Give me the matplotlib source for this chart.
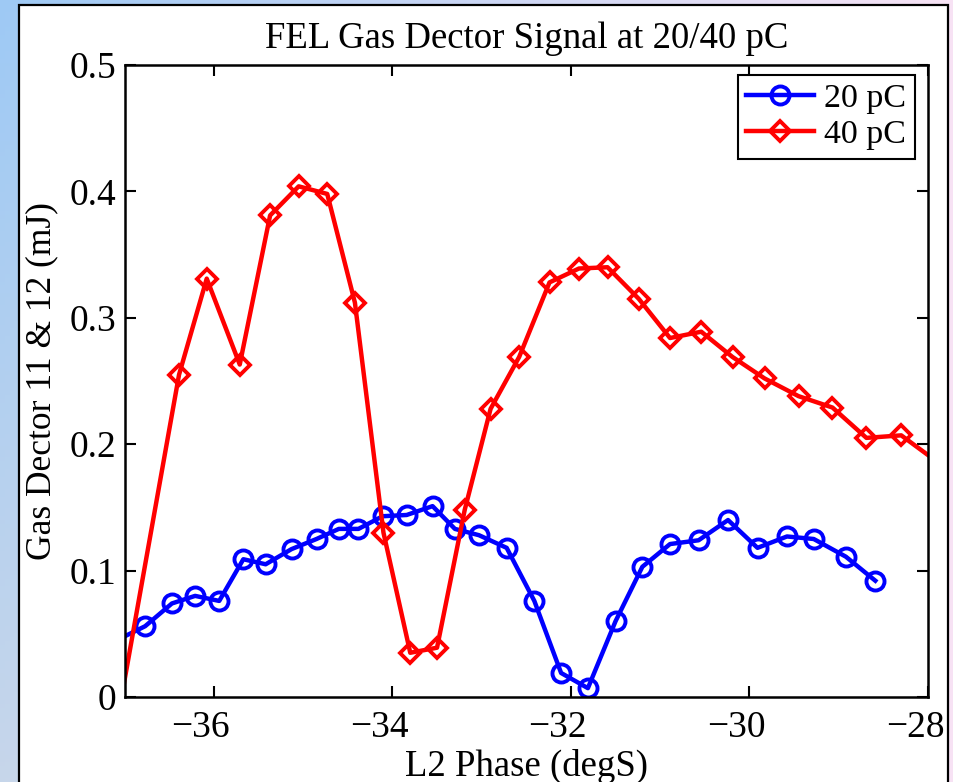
import numpy as np
import matplotlib.pyplot as plt
import matplotlib.transforms as mtransforms
from matplotlib.patches import Rectangle

plt.rcParams['font.family'] = ['Liberation Serif', 'DejaVu Serif']

# L2 phase scan, gas detector signal
phase_20pc = [-37.2, -36.77, -36.47, -36.21, -35.94, -35.67, -35.42, -35.13, -34.85,
              -34.60, -34.38, -34.11, -33.84, -33.55, -33.30, -33.03, -32.72, -32.41,
              -32.11, -31.81, -31.50, -31.20, -30.89, -30.57, -30.24, -29.91, -29.58,
              -29.28, -28.92, -28.59]
signal_20pc = [0.041, 0.056, 0.074, 0.080, 0.076, 0.109, 0.105, 0.117, 0.125, 0.133,
               0.133, 0.143, 0.144, 0.151, 0.133, 0.128, 0.118, 0.076, 0.019, 0.007,
               0.060, 0.103, 0.121, 0.124, 0.140, 0.118, 0.127, 0.125, 0.111, 0.092]

phase_40pc = [-37.1, -36.39, -36.08, -35.71, -35.37, -35.05, -34.73, -34.42, -34.10,
              -33.80, -33.50, -33.19, -32.90, -32.58, -32.24, -31.91, -31.59, -31.24,
              -30.89, -30.54, -30.19, -29.83, -29.45, -29.07, -28.69, -28.30, -27.8]
signal_40pc = [-0.026, 0.255, 0.331, 0.263, 0.381, 0.404, 0.398, 0.312, 0.130, 0.035,
               0.039, 0.148, 0.228, 0.269, 0.328, 0.339, 0.340, 0.315, 0.284, 0.289,
               0.269, 0.252, 0.238, 0.229, 0.205, 0.207, 0.181]

xticks = [-36, -34, -32, -30, -28]
xtick_labels = ['\u221236', '\u221234', '\u221232', '\u221230', '\u221228']
yticks = [0, 0.1, 0.2, 0.3, 0.4, 0.5]
ytick_labels = ['0', '0.1', '0.2', '0.3', '0.4', '0.5']

W, H = 954, 782
fig = plt.figure(figsize=(W / 100, H / 100), dpi=100)

# slide background behind the figure
bg = fig.add_axes([0, 0, 1, 1], zorder=-10)
gx = np.linspace(0, 1, 200)[None, :]
gy = np.linspace(0, 1, 200)[:, None]
blue_top = np.array([0.62, 0.79, 0.96])
blue_bot = np.array([0.78, 0.84, 0.92])
pink = np.array([0.97, 0.89, 0.96])
left = blue_top * (1 - gy[..., None]) + blue_bot * gy[..., None]
grad = left * (1 - gx[..., None]) + pink * gx[..., None]
bg.imshow(grad, extent=[0, 1, 0, 1], aspect='auto', origin='upper')
bg.add_patch(Rectangle((19 / W, -0.01), (948 - 19) / W, 1.01 - 4.5 / H,
                       facecolor='white', edgecolor='black', lw=1.6))
bg.set_xlim(0, 1)
bg.set_ylim(0, 1)
bg.axis('off')

ax = fig.add_axes([124.6 / W, 1 - 697 / H, (928 - 124.6) / W, (697 - 65) / H])
ax.plot(phase_20pc, signal_20pc, 'b-o', lw=3.2, ms=13, mew=2.8, mfc='none', label='20 pC')
ax.plot(phase_40pc, signal_40pc, 'r-D', lw=3.2, ms=10, mew=2.8, mfc='none', label='40 pC')

ax.set_xlim(-37, -28)
ax.set_ylim(0, 0.5)
ax.set_xticks(xticks)
ax.set_yticks(yticks)
ax.set_xticklabels(xtick_labels)
ax.set_yticklabels(ytick_labels)
ax.tick_params(direction='in', length=8, width=1.5, labelsize=27, top=True, right=True)
ax.tick_params(axis='x', pad=10)
ax.tick_params(axis='y', pad=6)
for s in ax.spines.values():
    s.set_linewidth(1.8)

# nudge x tick labels left a little
shift = mtransforms.ScaledTranslation(-13 / 100, 0, fig.dpi_scale_trans)
for lbl in ax.get_xticklabels():
    lbl.set_transform(lbl.get_transform() + shift)

ax.set_title('FEL Gas Dector Signal at 20/40 pC', fontsize=26.5, pad=12)
ax.set_xlabel('L2 Phase (degS)', fontsize=26.5)
ax.set_ylabel('Gas Dector 11 & 12 (mJ)', fontsize=25.5, labelpad=8)
ax.xaxis.set_label_coords(0.5, -0.082)

leg = ax.legend(loc='upper right', bbox_to_anchor=(915 / W, 1 - 75 / H),
                bbox_transform=fig.transFigure, fontsize=24.5, fancybox=False,
                framealpha=1, edgecolor='black', borderpad=0.25, handlelength=2.0,
                handletextpad=0.3, labelspacing=0.15, borderaxespad=0)
leg.get_frame().set_linewidth(1.5)

fig.savefig('out.png', dpi=100)
